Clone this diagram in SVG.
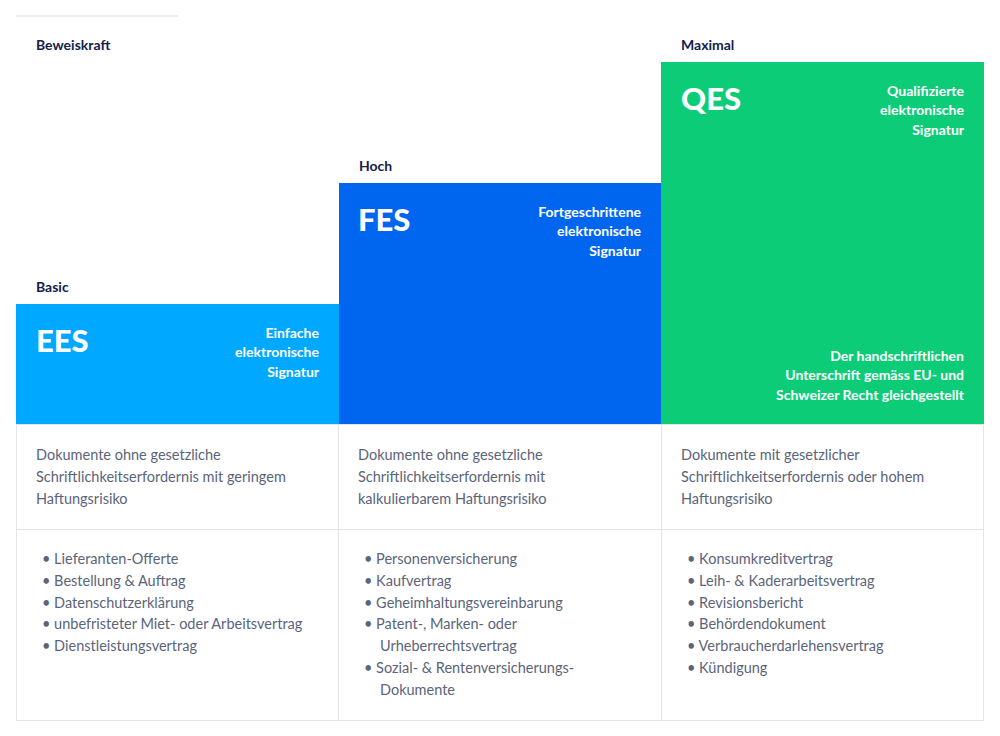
<svg xmlns="http://www.w3.org/2000/svg" width="1000" height="736" viewBox="0 0 1000 736">
<style>
.lbl{font-family:"Lato","Liberation Sans",sans-serif;font-weight:700;font-size:14px;fill:#14214a}
.abbr{font-family:"Lato","Liberation Sans",sans-serif;font-weight:900;font-size:31px;fill:#fff}
.name{font-family:"Lato","Liberation Sans",sans-serif;font-weight:700;font-size:14px;fill:#fff;text-anchor:end}
.txt{font-family:"Lato","Liberation Sans",sans-serif;font-size:14.5px;fill:#5b647a}
.cell{fill:#fff;stroke:#e3e5ea;stroke-width:1}
</style>
<rect width="1000" height="736" fill="#fff"/>
<line x1="16" y1="16" x2="178" y2="16" stroke="#ececee" stroke-width="2"/>
<text class="lbl" x="36" y="50">Beweiskraft</text>
<g id="connectors"/>
<g id="ees">
<text class="lbl" x="36" y="292">Basic</text>
<rect x="16" y="304" width="323" height="120" fill="#00a8ff"/>
<text class="abbr" x="36" y="352">EES</text>
<text class="name" x="319" y="338">Einfache</text>
<text class="name" x="319" y="357">elektronische</text>
<text class="name" x="319" y="377">Signatur</text>
<rect class="cell" x="16.5" y="424.5" width="322" height="105"/>
<text class="txt" x="36" y="460">Dokumente ohne gesetzliche</text>
<text class="txt" x="36" y="482">Schriftlichkeitserfordernis mit geringem</text>
<text class="txt" x="36" y="504">Haftungsrisiko</text>
<rect class="cell" x="16.5" y="529.5" width="322" height="191"/>
<text class="txt" x="42" y="564">•  Lieferanten-Offerte</text>
<text class="txt" x="42" y="586">•  Bestellung &amp; Auftrag</text>
<text class="txt" x="42" y="608">•  Datenschutzerklärung</text>
<text class="txt" x="42" y="629">•  unbefristeter Miet- oder Arbeitsvertrag</text>
<text class="txt" x="42" y="651">•  Dienstleistungsvertrag</text>
</g>
<g id="fes">
<text class="lbl" x="359" y="171">Hoch</text>
<rect x="339" y="183" width="322" height="241" fill="#0066ef"/>
<text class="abbr" x="358" y="231">FES</text>
<text class="name" x="641" y="217">Fortgeschrittene</text>
<text class="name" x="641" y="236">elektronische</text>
<text class="name" x="641" y="256">Signatur</text>
<rect class="cell" x="338.5" y="424.5" width="323" height="105"/>
<text class="txt" x="358" y="460">Dokumente ohne gesetzliche</text>
<text class="txt" x="358" y="482">Schriftlichkeitserfordernis mit</text>
<text class="txt" x="358" y="504">kalkulierbarem Haftungsrisiko</text>
<rect class="cell" x="338.5" y="529.5" width="323" height="191"/>
<text class="txt" x="364" y="564">•  Personenversicherung</text>
<text class="txt" x="364" y="586">•  Kaufvertrag</text>
<text class="txt" x="364" y="608">•  Geheimhaltungsvereinbarung</text>
<text class="txt" x="364" y="629">•  Patent-, Marken- oder</text>
<text class="txt" x="380" y="651">Urheberrechtsvertrag</text>
<text class="txt" x="364" y="673">•  Sozial- &amp; Rentenversicherungs-</text>
<text class="txt" x="380" y="695">Dokumente</text>
</g>
<g id="qes">
<text class="lbl" x="681" y="50">Maximal</text>
<rect x="661" y="62" width="323" height="362" fill="#0ccc78"/>
<text class="abbr" x="681" y="110">QES</text>
<text class="name" x="964" y="96">Qualifizierte</text>
<text class="name" x="964" y="115">elektronische</text>
<text class="name" x="964" y="135">Signatur</text>
<text class="name" x="964" y="361">Der handschriftlichen</text>
<text class="name" x="964" y="380">Unterschrift gemäss EU- und</text>
<text class="name" x="964" y="400">Schweizer Recht gleichgestellt</text>
<rect class="cell" x="661.5" y="424.5" width="322" height="105"/>
<text class="txt" x="681" y="460">Dokumente mit gesetzlicher</text>
<text class="txt" x="681" y="482">Schriftlichkeitserfordernis oder hohem</text>
<text class="txt" x="681" y="504">Haftungsrisiko</text>
<rect class="cell" x="661.5" y="529.5" width="322" height="191"/>
<text class="txt" x="687" y="564">•  Konsumkreditvertrag</text>
<text class="txt" x="687" y="586">•  Leih- &amp; Kaderarbeitsvertrag</text>
<text class="txt" x="687" y="608">•  Revisionsbericht</text>
<text class="txt" x="687" y="629">•  Behördendokument</text>
<text class="txt" x="687" y="651">•  Verbraucherdarlehensvertrag</text>
<text class="txt" x="687" y="673">•  Kündigung</text>
</g>
</svg>
